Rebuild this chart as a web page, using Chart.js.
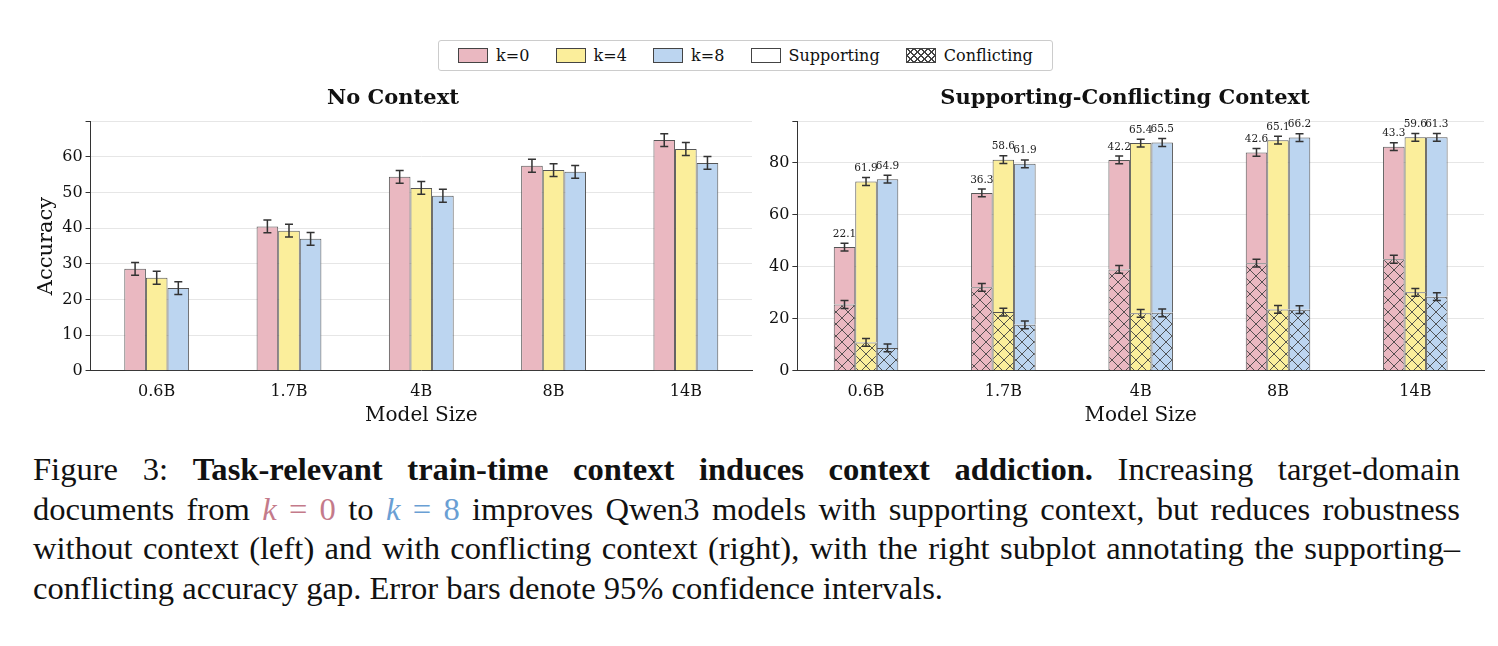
<!DOCTYPE html>
<html lang="en">
<head>
<meta charset="UTF-8">
<title>Context addiction</title>
<script src="https://cdn.jsdelivr.net/npm/chart.js"></script>
<style>
  body { margin: 0; background: #fff; width: 1498px; height: 646px; position: relative; overflow: hidden; }
  .box { position: absolute; }
  #legend { position: absolute; left: 438px; top: 40px; width: 615px; height: 31px; border: 1px solid #ccc; border-radius: 3px;
    display: flex; align-items: center; justify-content: space-around; font-family: "DejaVu Serif"; font-size: 16px; color: #111; box-sizing: border-box; padding: 0 6px; }
  #legend span.sw { display: inline-block; width: 28px; height: 13px; border: 1px solid #444; vertical-align: -2px; margin-right: 8px; }
  #caption { position: absolute; left: 33px; top: 450px; width: 1427px; font-family: "Liberation Serif"; font-size: 32.6px; line-height: 39.5px; color: #111; text-align: justify; }
  .m { font-style: italic; }
</style>
</head>
<body>
<div id="legend">
  <div><span class="sw" style="background:#eab8c1"></span>k=0</div>
  <div><span class="sw" style="background:#fbee9b"></span>k=4</div>
  <div><span class="sw" style="background:#bcd5f0"></span>k=8</div>
  <div><span class="sw" style="background:#fff"></span>Supporting</div>
  <div><span class="sw" style="background:#fff;background-image:repeating-linear-gradient(45deg,transparent 0 4px,#444 4px 5px),repeating-linear-gradient(-45deg,transparent 0 4px,#444 4px 5px)"></span>Conflicting</div>
</div>
<div class="box" style="left:20px;top:84px;width:742px;height:348px"><canvas id="left"></canvas></div>
<div class="box" style="left:752px;top:84px;width:740px;height:348px"><canvas id="right"></canvas></div>
<div id="caption">Figure 3: <b>Task-relevant train-time context induces context addiction.</b> Increasing target-domain documents from <span class="m" style="color:#c47a8a">k</span> <span style="color:#c47a8a">= 0</span> to <span class="m" style="color:#6a9fd4">k</span> <span style="color:#6a9fd4">= 8</span> improves Qwen3 models with supporting context, but reduces robustness without context (left) and with conflicting context (right), with the right subplot annotating the supporting–conflicting accuracy gap. Error bars denote 95% confidence intervals.</div>
<script>
const sizes = ['0.6B', '1.7B', '4B', '8B', '14B'];
const kLabels = ['k=0', 'k=4', 'k=8'];
const colors = ['#eab8c1', '#fbee9b', '#bcd5f0'];

// No context accuracy
const noCtx = [
  [28.6, 40.5, 54.4, 57.5, 64.7],
  [26.1, 39.3, 51.3, 56.3, 62.2],
  [23.2, 37.0, 49.1, 55.8, 58.3]
];
const noCtxErr = 1.8;

// Supporting / conflicting context accuracy
const supporting = [
  [47.6, 68.4, 81.1, 84.0, 86.2],
  [72.8, 81.2, 87.6, 88.7, 89.8],
  [73.7, 79.6, 87.8, 89.7, 89.8]
];
const conflicting = [
  [25.5, 32.1, 39.0, 41.4, 42.9],
  [10.9, 22.6, 22.1, 23.6, 30.2],
  [8.8, 17.7, 22.3, 23.5, 28.5]
];
const gapLabels = [
  ['22.1', '36.3', '42.2', '42.6', '43.3'],
  ['61.9', '58.6', '65.4', '65.1', '59.6'],
  ['64.9', '61.9', '65.5', '66.2', '61.3']
];
const ctxErr = 1.5;

function hatch(color) {
  const s = 12;
  const c = document.createElement('canvas');
  c.width = s; c.height = s;
  const g = c.getContext('2d');
  g.fillStyle = color; g.fillRect(0, 0, s, s);
  g.strokeStyle = '#444'; g.lineWidth = 0.9;
  g.beginPath();
  g.moveTo(0, 0); g.lineTo(s, s);
  g.moveTo(s, 0); g.lineTo(0, s);
  g.stroke();
  return g.createPattern(c, 'repeat');
}

const F = 'DejaVu Serif';
Chart.defaults.font.family = F;
Chart.defaults.color = '#111';

// error bars and gap labels, drawn from the library's scales
const errPlugin = {
  id: 'err',
  afterDatasetsDraw(chart) {
    const ctx = chart.ctx, y = chart.scales.y;
    ctx.save();
    ctx.strokeStyle = '#333'; ctx.lineWidth = 1.5;
    chart.data.datasets.forEach((ds, di) => {
      if (!ds.tops) return;
      const meta = chart.getDatasetMeta(di);
      meta.data.forEach((bar, i) => {
        const v = ds.tops[i], e = ds.err;
        const y1 = y.getPixelForValue(v - e), y2 = y.getPixelForValue(v + e);
        ctx.beginPath();
        ctx.moveTo(bar.x, y1); ctx.lineTo(bar.x, y2);
        ctx.moveTo(bar.x - 4, y1); ctx.lineTo(bar.x + 4, y1);
        ctx.moveTo(bar.x - 4, y2); ctx.lineTo(bar.x + 4, y2);
        ctx.stroke();
        if (ds.labels) {
          ctx.fillStyle = '#222'; ctx.font = '10.5px ' + F;
          ctx.textAlign = 'center'; ctx.textBaseline = 'bottom';
          ctx.fillText(ds.labels[i], bar.x, y2 - 4);
        }
      });
    });
    ctx.restore();
  }
};

function scales(max, step) {
  return {
    x: {
      stacked: true,
      grid: { display: false },
      border: { color: '#333' },
      ticks: { font: { size: 16 }, color: '#111' },
      title: { display: true, text: 'Model Size', font: { size: 20 }, padding: { top: 0 } }
    },
    y: {
      stacked: false,
      min: 0, max: max,
      border: { color: '#333' },
      grid: { color: '#e6e6e6', borderDash: [4, 4], drawTicks: true, tickColor: '#333', tickLength: 5 },
      ticks: { stepSize: step, font: { size: 16 }, color: '#111', callback: v => (v % step === 0 && v < max) ? v : '' }
    }
  };
}

function baseOpts(title, max, step, pad) {
  return {
    responsive: true, maintainAspectRatio: false, animation: false,
    layout: { padding: pad },
    plugins: {
      legend: { display: false }, tooltip: { enabled: false },
      title: { display: true, text: title, font: { size: 21, weight: 'bold' }, padding: { top: 2, bottom: 10 } }
    },
    scales: scales(max, step)
  };
}

const leftOpts = baseOpts('No Context', 70, 10, { left: 14, right: 10 });
leftOpts.scales.y.title = { display: true, text: 'Accuracy', font: { size: 21 }, padding: 0 };
new Chart(document.getElementById('left'), {
  type: 'bar',
  data: {
    labels: sizes,
    datasets: noCtx.map((vals, k) => ({
      label: kLabels[k], data: vals, stack: 's' + k, tops: vals, err: noCtxErr,
      backgroundColor: colors[k], borderColor: '#555', borderWidth: 1,
      categoryPercentage: 0.49, barPercentage: 1
    }))
  },
  options: leftOpts,
  plugins: [errPlugin]
});

// right: conflicting part drawn hatched, supporting drawn as plain bar on top (stacked per k)
const rightSets = [];
supporting.forEach((sup, k) => {
  rightSets.push({
    label: kLabels[k] + ' conflicting', data: conflicting[k], stack: 's' + k,
    tops: conflicting[k], err: ctxErr,
    backgroundColor: hatch(colors[k]), borderColor: '#555', borderWidth: 1,
    categoryPercentage: 0.47, barPercentage: 1
  });
  rightSets.push({
    label: kLabels[k] + ' supporting', data: sup.map((v, i) => v - conflicting[k][i]), stack: 's' + k,
    tops: sup, err: ctxErr, labels: gapLabels[k],
    backgroundColor: colors[k], borderColor: '#555', borderWidth: 1,
    categoryPercentage: 0.47, barPercentage: 1
  });
});
const rightOpts = baseOpts('Supporting-Conflicting Context', 96, 20, { left: 14, right: 8 });
rightOpts.scales.y.stacked = true;
new Chart(document.getElementById('right'), {
  type: 'bar',
  data: { labels: sizes, datasets: rightSets },
  options: rightOpts,
  plugins: [errPlugin]
});
</script>
</body>
</html>
